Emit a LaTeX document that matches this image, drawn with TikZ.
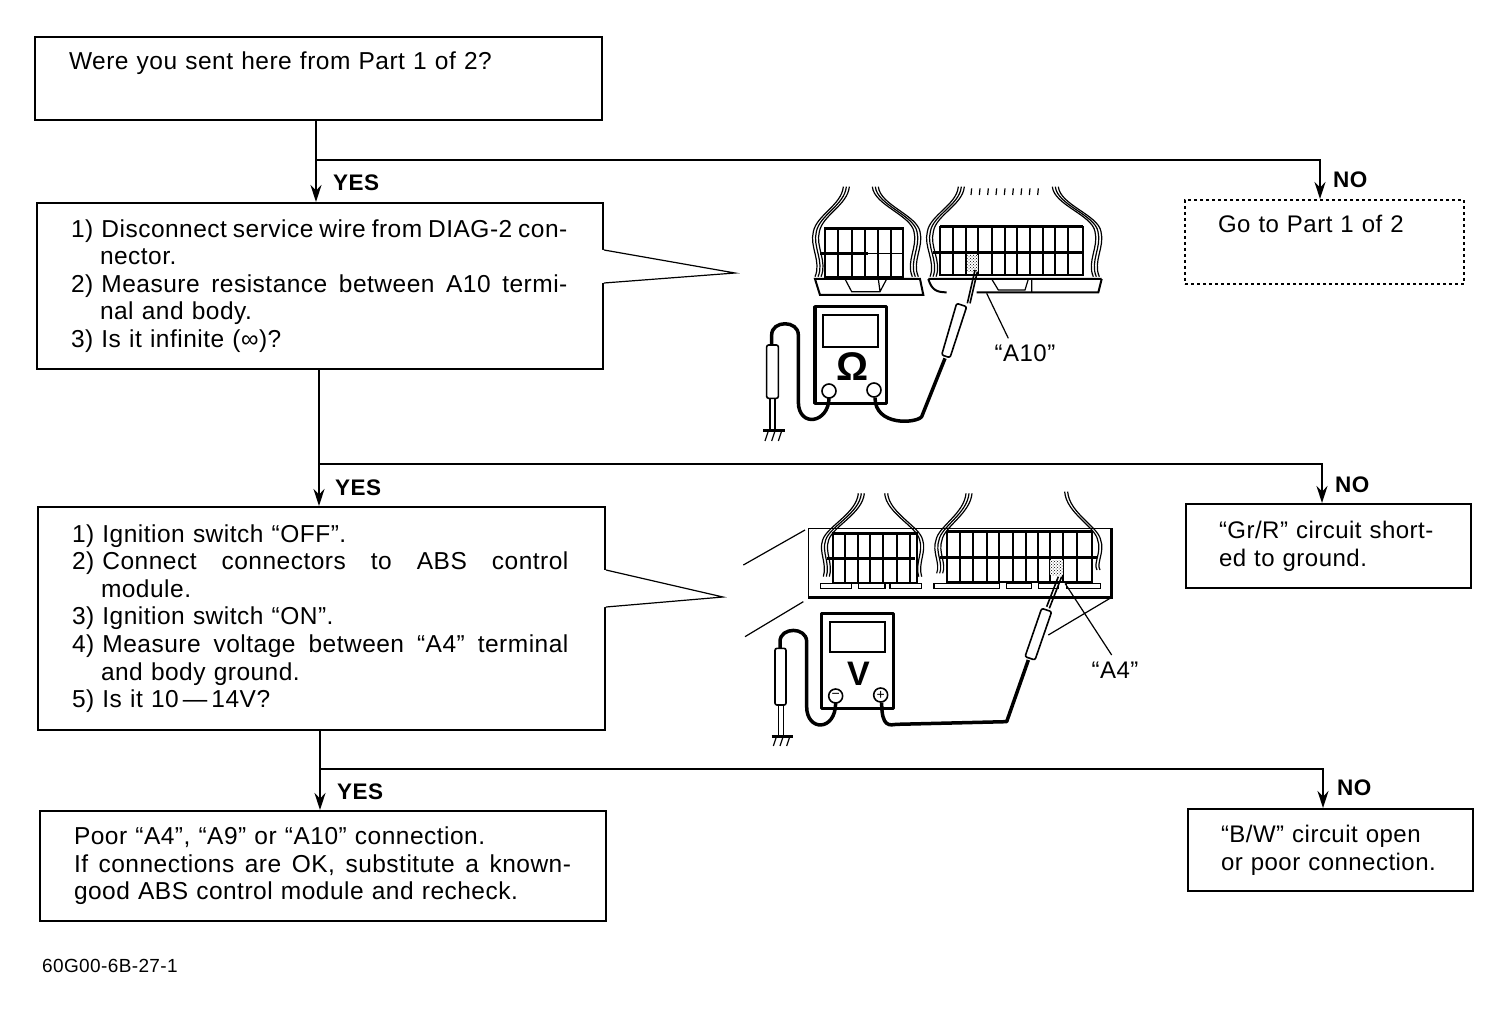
\documentclass[tikz,border=0pt]{standalone}
\usepackage{fontspec}
\setmainfont[LetterSpace=2]{Liberation Sans}
\usetikzlibrary{arrows.meta,patterns}
\newcommand{\cont}{\hspace*{29pt}}
\newcommand{\spread}[2]{\makebox[#1][s]{\spaceskip=0pt\relax #2}}

\begin{document}
\begin{tikzpicture}[
    x=1pt,y=-1pt,
    chartbox/.style={rectangle,draw,line width=2pt,anchor=north west,inner xsep=34pt,inner ysep=0pt,
      align=left,font=\fontsize{24.5}{27.6}\selectfont},
    notebox/.style={chartbox,inner xsep=33pt,font=\fontsize{24}{27.6}\selectfont},
    answer/.style={anchor=west,inner sep=0pt,font=\bfseries\fontsize{22.5}{27}\selectfont},
    pinlabel/.style={inner sep=0pt,font=\fontsize{24}{27}\selectfont},
    flow/.style={-{Stealth[length=17pt,width=11pt]},line width=1.6pt},
    thinline/.style={line width=1.2pt},
    cell/.style={line width=2pt},
    lead/.style={line width=3.5pt,line join=round},
    probe/.style={line width=1.6pt,fill=white,rounded corners=2pt},
    terminal/.style={draw,circle,line width=1.6pt,fill=white,minimum size=14pt,inner sep=0pt,font=\fontsize{14}{14}\selectfont}
  ]
    \useasboundingbox (0,0) rectangle (1488,1016);
    % left column
    \node[chartbox,text width=499pt,minimum height=83pt] (sent) at (34,36) {Were you sent here from Part 1 of 2?\\ \strut};
    \node[chartbox,text width=498pt,minimum height=166pt] (resist) at (36,202) {1) \spread{466pt}{Disconnect service wire from DIAG-2 con-}\\
      \cont nector.\\
      2) \spread{466pt}{Measure resistance between A10 termi-}\\
      \cont nal and body.\\
      3) Is it infinite (∞)?};
    \node[chartbox,text width=499pt,minimum height=223pt] (volt) at (37,506) {1) Ignition switch “OFF”.\\
      2) \spread{466pt}{Connect connectors to ABS control}\\
      \cont module.\\
      3) Ignition switch “ON”.\\
      4) \spread{466pt}{Measure voltage between “A4” terminal}\\
      \cont and body ground.\\
      5) Is it 10\,—\,14V?};
    \node[chartbox,text width=498pt,minimum height=110pt] (poor) at (39,810) {Poor “A4”, “A9” or “A10” connection.\\
      \spread{497pt}{If connections are OK, substitute a known-}\\
      good ABS control module and recheck.};
    % right column
    \node[notebox,dashed,text width=213pt,minimum height=84pt] (gopart) at (1184,199) {Go to Part 1 of 2\\ \strut};
    \node[notebox,text width=219pt,minimum height=84pt] (short) at (1185,503) {“Gr/R” circuit short-\\ed to ground.};
    \node[notebox,text width=219pt,minimum height=82pt] (open) at (1187,808) {“B/W” circuit open\\or poor connection.};
    \node[anchor=west,inner sep=0pt,font=\fontsize{19}{22}\selectfont] (code) at (42,966) {60G00-6B-27-1};
    % forks
    \coordinate (forka) at (316,160);
    \coordinate (turna) at (1320,160);
    \coordinate (forkb) at (319,464);
    \coordinate (turnb) at (1322,464);
    \coordinate (forkc) at (320,769);
    \coordinate (turnc) at (1323,769);
    \draw[line width=1.6pt] (forka |- sent.south) -- (forka);
    \draw[flow] (forka) -- (forka |- resist.north);
    \draw[flow] (forka) -- (turna) -- (turna |- gopart.north);
    \draw[line width=1.6pt] (forkb |- resist.south) -- (forkb);
    \draw[flow] (forkb) -- (forkb |- volt.north);
    \draw[flow] (forkb) -- (turnb) -- (turnb |- short.north);
    \draw[line width=1.6pt] (forkc |- volt.south) -- (forkc);
    \draw[flow] (forkc) -- (forkc |- poor.north);
    \draw[flow] (forkc) -- (turnc) -- (turnc |- open.north);
    \node[answer] (yesa) at (333,183) {YES};
    \node[answer] (noa) at (1333,180) {NO};
    \node[answer] (yesb) at (335,488) {YES};
    \node[answer] (nob) at (1335,485) {NO};
    \node[answer] (yesc) at (337,792) {YES};
    \node[answer] (noc) at (1337,788) {NO};
    % callouts
    \coordinate (tipa) at (735,273);
    \coordinate (tipb) at (723,597);
    \fill[white] (598,250) -- (603,250) -- (tipa) -- (603,283) -- (598,283) -- cycle;
    \draw[thinline] (resist.east |- 0,250) -- (tipa) -- (resist.east |- 0,283);
    \fill[white] (600,570) -- (605,570) -- (tipb) -- (605,607) -- (600,607) -- cycle;
    \draw[thinline] (volt.east |- 0,570) -- (tipb) -- (volt.east |- 0,607);
    % resistance check
    \begin{scope}[shift={(730,175)},scale=1/3]
      % connectors
      \draw[cell] (285,160) rectangle (520,305);
      \draw[line width=2.5pt] (285,160) -- (520,160) (270,235) -- (415,235);
      \draw[thinline] (415,235) -- (520,235);
      \foreach \x in {325,365,405,445,482} \draw[cell] (\x,160) -- (\x,305);
      \draw[cell] (630,155) rectangle (1060,300);
      \draw[line width=2.5pt] (630,155) -- (1060,155) (610,232) -- (1060,232);
      \foreach \x in {670,708,745,785,825,862,900,938,975,1015} \draw[cell] (\x,155) -- (\x,300);
      \draw[line width=2pt] (255,312) -- (270,360) -- (580,360) -- (570,312) -- cycle;
      \draw[thinline] (345,312) -- (365,350) -- (450,350) -- (470,312) (450,350) -- (445,312);
      \draw[line width=2pt] (595,312) .. controls (605,345) and (620,352) .. (650,352);
      \draw[line width=2pt] (740,352) -- (1105,352) -- (1115,312) (595,312) -- (1115,312);
      \draw[thinline] (785,312) -- (805,345) -- (885,345) -- (895,312) (905,352) -- (905,312);
      \foreach \d in {0,9,18} {
        \draw[thinline] (340+\d,35) .. controls (335+\d,90) and (260+\d,120) .. (250+\d,170) .. controls (238+\d,215) and (275+\d,260) .. (255+\d,305);
        \draw[thinline] (445-\d,35) .. controls (450-\d,90) and (560-\d,120) .. (570-\d,170) .. controls (582-\d,215) and (545-\d,260) .. (565-\d,305);
        \draw[thinline] (685+\d,35) .. controls (680+\d,90) and (600+\d,120) .. (592+\d,170) .. controls (580+\d,215) and (618+\d,260) .. (600+\d,305);
        \draw[thinline] (985-\d,35) .. controls (990-\d,90) and (1105-\d,120) .. (1113-\d,170) .. controls (1125-\d,215) and (1088-\d,260) .. (1108-\d,305);
      }
      \foreach \x in {725,750,775,800,825,850,875,900,925} \draw[thinline] (\x,40) -- (\x-2,60);
      \fill[white] (712,240) rectangle (745,290);
      \fill[pattern=crosshatch dots] (712,240) rectangle (745,290);
      \draw[thinline] (770,355) -- (835,490);
      % meter
      \draw[lead] (255,395) rectangle (470,685);
      \draw[line width=2pt] (280,420) rectangle (445,515);
      \draw[lead] (297,668) .. controls (297,745) and (205,760) .. (205,680) -- (205,480) .. controls (205,435) and (125,435) .. (125,480) -- (125,510);
      \draw[lead] (435,668) .. controls (435,755) and (560,745) .. (575,725) -- (645,550);
      \draw[probe] (110,510) rectangle (145,670);
      \draw[line width=1.6pt] (120,670) -- (120,768) (135,670) -- (135,768);
      \draw[line width=3pt] (100,768) -- (165,768);
      \foreach \x in {115,135,155} \draw[thinline] (\x,768) -- (\x-10,798);
      \node[terminal] (ohmneg) at (297,648) {};
      \node[terminal] (ohmpos) at (432,645) {};
      \node[inner sep=0pt,font=\bfseries\fontsize{40}{40}\selectfont] (ohm) at (368,575) {Ω};
      \draw[line width=1.6pt] (735,285) -- (712,385) (742,290) -- (720,385);
      \draw[probe] (680,385) -- (710,395) -- (660,548) -- (635,540) -- cycle;
      \node[pinlabel] (pina) at (885,536) {“A10”};
    \end{scope}
    % voltage check
    \begin{scope}[shift={(730,480)},scale=1/3]
      \draw[line width=1.6pt] (235,145) rectangle (1145,352);
      \draw[line width=2.5pt] (235,352) -- (1145,352) -- (1145,145);
      \draw[thinline] (225,150) -- (40,255) (220,365) -- (45,470) (1145,352) -- (955,465);
      \draw[cell] (310,160) rectangle (560,310);
      \draw[line width=2.5pt] (310,160) -- (560,160) (290,235) -- (555,235);
      \foreach \x in {345,385,420,460,500,540} \draw[cell] (\x,160) -- (\x,310);
      \draw[cell] (650,155) rectangle (1085,305);
      \draw[line width=2.5pt] (650,155) -- (1085,155) (630,232) -- (1100,232);
      \foreach \x in {690,730,770,808,848,888,925,960,1000,1040} \draw[cell] (\x,155) -- (\x,305);
      \foreach \a/\b in {272/365,385/465,480/575,612/808,830/905,925/985,1010/1112} \draw[line width=1.6pt] (\a,310) rectangle (\b,325);
      \foreach \d in {0,9,18} {
        \draw[thinline] (385+\d,40) .. controls (380+\d,100) and (290+\d,140) .. (278+\d,180) .. controls (265+\d,215) and (292+\d,250) .. (280+\d,290);
        \draw[thinline] (708+\d,40) .. controls (703+\d,100) and (625+\d,140) .. (618+\d,180) .. controls (605+\d,215) and (632+\d,250) .. (620+\d,280);
      }
      \foreach \d in {0,9} {
        \draw[thinline] (473-\d,40) .. controls (478-\d,100) and (570-\d,140) .. (578-\d,180) .. controls (590-\d,215) and (563-\d,250) .. (575-\d,290);
        \draw[thinline] (1013-\d,35) .. controls (1018-\d,100) and (1105-\d,140) .. (1112-\d,180) .. controls (1125-\d,215) and (1098-\d,250) .. (1110-\d,270);
      }
      \fill[white] (960,240) rectangle (1000,285);
      \fill[pattern=crosshatch dots] (960,240) rectangle (1000,285);
      \draw[thinline] (1005,310) -- (1145,525);
      % meter
      \draw[lead] (275,400) rectangle (490,685);
      \draw[line width=2pt] (300,425) rectangle (465,515);
      \draw[lead] (317,668) .. controls (317,755) and (230,755) .. (230,680) -- (230,485) .. controls (230,440) and (150,440) .. (150,485) -- (150,505);
      \draw[lead] (455,668) .. controls (455,745) and (480,735) .. (500,733) -- (830,725) -- (895,540);
      \draw[probe] (135,505) rectangle (168,675);
      \draw[line width=1.6pt] (145,675) -- (145,768) (160,675) -- (160,768);
      \draw[line width=3pt] (125,768) -- (190,768);
      \foreach \x in {140,160,180} \draw[thinline] (\x,768) -- (\x-10,798);
      \node[terminal] (minus) at (317,648) {−};
      \node[terminal] (plus) at (452,645) {+};
      \node[inner sep=0pt,font=\bfseries\fontsize{34}{34}\selectfont] (volts) at (385,580) {V};
      \draw[line width=1.6pt] (985,290) -- (950,380) (995,290) -- (958,385);
      \draw[probe] (935,385) -- (965,395) -- (915,540) -- (885,530) -- cycle;
      \node[pinlabel] (pinb) at (1155,570) {“A4”};
    \end{scope}
  \end{tikzpicture}
\end{document}
